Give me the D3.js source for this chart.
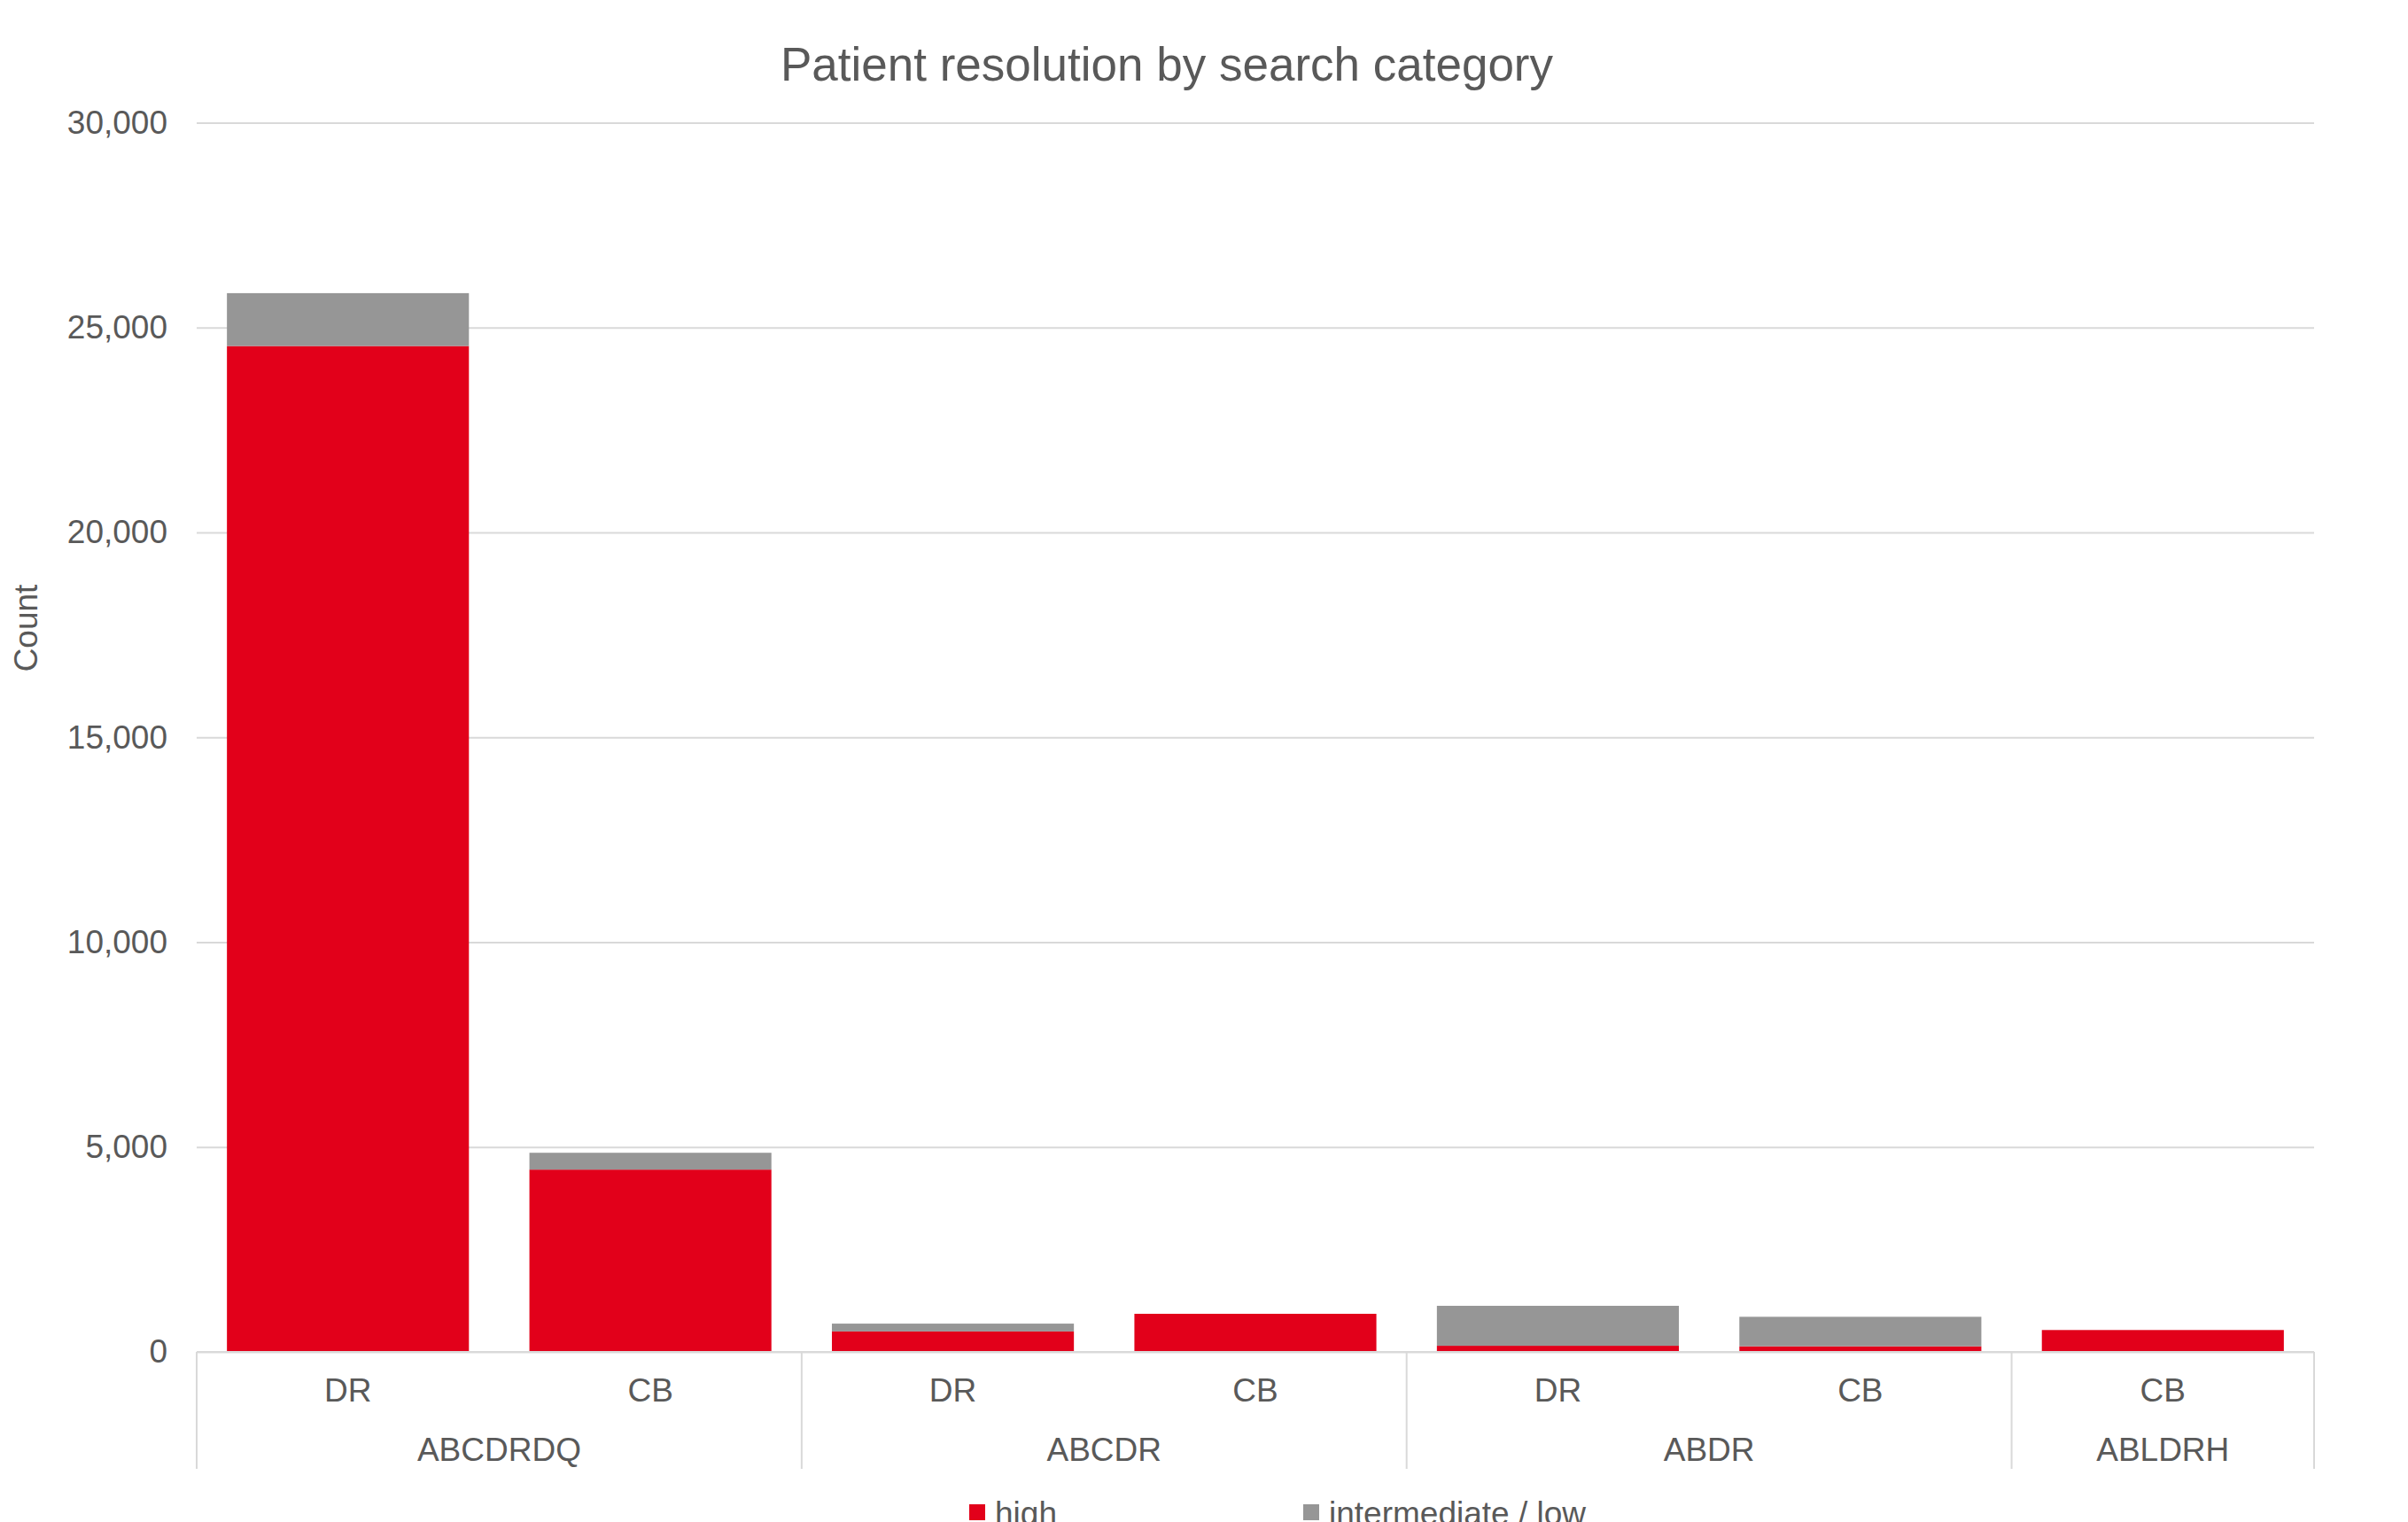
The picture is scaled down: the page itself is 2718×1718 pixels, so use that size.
<!DOCTYPE html>
<html>
<head>
<meta charset="utf-8">
<script src="https://cdn.jsdelivr.net/npm/d3@7"></script>
<style>
  html, body { margin: 0; padding: 0; background: #ffffff; }
  svg { display: block; }
  text { font-family: "Liberation Sans", Arial, sans-serif; fill: #595959; }
</style>
</head>
<body>
<svg id="chart" width="2718" height="1718"></svg>
<script>
// Search categories (outer group) and donor type (inner category), one entry per bar
const groups = ["ABCDRDQ", "ABCDRDQ", "ABCDR", "ABCDR", "ABDR", "ABDR", "ABLDRH"];
const categories = ["DR", "CB", "DR", "CB", "DR", "CB", "CB"];

// Resolution counts per bar
const high = [24550, 4450, 500, 930, 150, 137, 534];
const intermediateLow = [1290, 410, 190, 0, 975, 720, 0];

const seriesNames = ["high", "intermediate / low"];
const seriesColors = ["#e2001a", "#969696"];
const yTicks = [0, 5000, 10000, 15000, 20000, 25000, 30000];

const svg = d3.select("#chart");
const plotLeft = 222, plotRight = 2612, plotTop = 138.5, plotBottom = 1526;

const rows = categories.map((c, i) => ({ idx: i, high: high[i], low: intermediateLow[i] }));
const stacked = d3.stack().keys(["high", "low"])(rows);

const x = d3.scaleBand()
  .domain(rows.map(d => d.idx))
  .range([plotLeft, plotRight])
  .paddingInner(0.2)
  .paddingOuter(0.1);

const y = d3.scaleLinear().domain([0, 30000]).range([plotBottom, plotTop]);

// Horizontal gridlines and value labels
const yAxis = d3.axisLeft(y)
  .tickValues(yTicks)
  .tickFormat(d3.format(","))
  .tickSize(-(plotRight - plotLeft))
  .tickPadding(33);

const yG = svg.append("g")
  .attr("transform", `translate(${plotLeft},0)`)
  .call(yAxis);
yG.select(".domain").remove();
yG.selectAll(".tick line").attr("stroke", "#d9d9d9").attr("stroke-width", 2);
yG.selectAll(".tick text")
  .attr("font-size", 37)
  .attr("fill", "#595959")
  .style("font-family", "'Liberation Sans', Arial, sans-serif");

// Stacked bars
svg.append("g").selectAll("g")
  .data(stacked)
  .join("g")
  .attr("fill", (d, i) => seriesColors[i])
  .selectAll("rect")
  .data(d => d)
  .join("rect")
  .attr("x", d => x(d.data.idx))
  .attr("width", x.bandwidth())
  .attr("y", d => y(d[1]))
  .attr("height", d => y(d[0]) - y(d[1]));

// Category axis line
svg.append("line")
  .attr("x1", plotLeft).attr("x2", plotRight)
  .attr("y1", plotBottom).attr("y2", plotBottom)
  .attr("stroke", "#d9d9d9").attr("stroke-width", 2);

// Inner category labels
svg.append("g").selectAll("text")
  .data(rows)
  .join("text")
  .attr("x", d => x(d.idx) + x.bandwidth() / 2)
  .attr("y", 1582)
  .attr("text-anchor", "middle")
  .attr("font-size", 37)
  .text(d => categories[d.idx]);

// Group spans, separators and group labels
const step = x.step();
const groupSpans = [];
groups.forEach((g, i) => {
  const last = groupSpans[groupSpans.length - 1];
  if (last && last.name === g) last.end = i;
  else groupSpans.push({ name: g, start: i, end: i });
});
const bandStart = i => x(i) - step * x.paddingInner() / 2;
const bandEnd = i => x(i) + x.bandwidth() + step * x.paddingInner() / 2;

const sepX = groupSpans.map(s => bandStart(s.start)).concat([bandEnd(groupSpans[groupSpans.length - 1].end)]);
svg.append("g").selectAll("line")
  .data(sepX)
  .join("line")
  .attr("x1", d => d).attr("x2", d => d)
  .attr("y1", plotBottom).attr("y2", 1658)
  .attr("stroke", "#d9d9d9").attr("stroke-width", 2);

svg.append("g").selectAll("text")
  .data(groupSpans)
  .join("text")
  .attr("x", s => (bandStart(s.start) + bandEnd(s.end)) / 2)
  .attr("y", 1649)
  .attr("text-anchor", "middle")
  .attr("font-size", 37)
  .text(s => s.name);

// Title, centred on the whole chart area
svg.append("text")
  .attr("x", 1317)
  .attr("y", 91)
  .attr("text-anchor", "middle")
  .attr("font-size", 53)
  .text("Patient resolution by search category");

// Value axis title
svg.append("text")
  .attr("transform", "translate(42,709) rotate(-90)")
  .attr("text-anchor", "middle")
  .attr("font-size", 37)
  .text("Count");

// Legend
const legendX = [1094, 1471];
const legend = svg.append("g").selectAll("g")
  .data(seriesNames)
  .join("g")
  .attr("transform", (d, i) => `translate(${legendX[i]},1698)`);
legend.append("rect")
  .attr("width", 18).attr("height", 18)
  .attr("fill", (d, i) => seriesColors[i]);
legend.append("text")
  .attr("x", 29)
  .attr("y", 23)
  .attr("font-size", 37)
  .text(d => d);
</script>
</body>
</html>
